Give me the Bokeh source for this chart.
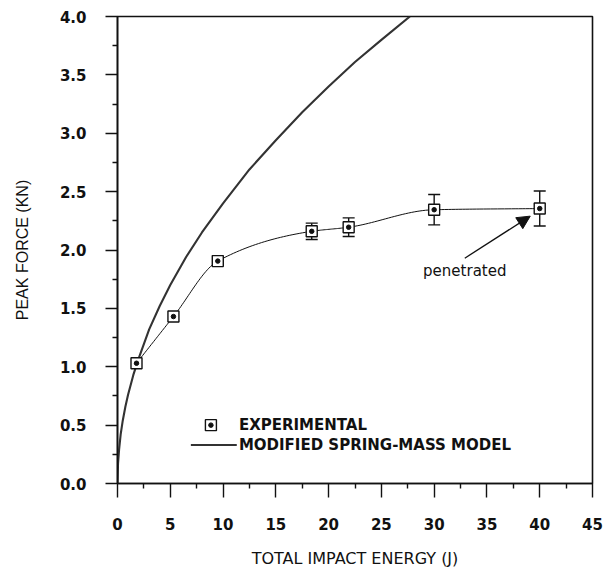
from bokeh.plotting import figure
from bokeh.models import (Range1d, FixedTicker, PrintfTickFormatter, Whisker, TeeHead,
                          ColumnDataSource, Arrow, NormalHead)
from bokeh.core.properties import value
from bokeh.embed import file_html
from bokeh.resources import INLINE

# Measured peak force vs. total impact energy
exp_energy = [1.8, 5.3, 9.5, 18.4, 21.9, 30.0, 40.0]
exp_force = [1.03, 1.43, 1.905, 2.16, 2.195, 2.345, 2.355]
exp_err = [0.0, 0.0, 0.0, 0.07, 0.08, 0.13, 0.15]

# Modified spring-mass model prediction
model_energy = [0.0, 0.05, 0.15, 0.3, 0.5, 0.75, 1.0, 1.5, 2.0, 3.0, 4.0, 5.0,
                6.5, 8.0, 10.0, 12.5, 15.0, 17.5, 20.0, 22.5, 25.0, 27.7]
model_force = [0.0, 0.17, 0.29, 0.42, 0.54, 0.66, 0.76, 0.93, 1.07, 1.32, 1.52, 1.70,
               1.94, 2.15, 2.40, 2.69, 2.94, 3.18, 3.40, 3.61, 3.80, 4.0]

x_ticks = [0, 5, 10, 15, 20, 25, 30, 35, 40, 45]
y_ticks = [0.0, 0.5, 1.0, 1.5, 2.0, 2.5, 3.0, 3.5, 4.0]

legend_labels = ["EXPERIMENTAL", "MODIFIED SPRING-MASS MODEL"]
note_text = "penetrated"

INK = "#111111"


def smooth(xs, ys, steps=30):
    """Monotone cubic (Fritsch-Carlson) path through the points, for a smooth line."""
    n = len(xs)
    h = [xs[i + 1] - xs[i] for i in range(n - 1)]
    d = [(ys[i + 1] - ys[i]) / h[i] for i in range(n - 1)]
    m = [0.0] * n
    m[0], m[-1] = d[0], d[-1]
    for i in range(1, n - 1):
        if d[i - 1] * d[i] <= 0:
            m[i] = 0.0
        else:
            w1 = 2 * h[i] + h[i - 1]
            w2 = h[i] + 2 * h[i - 1]
            m[i] = (w1 + w2) / (w1 / d[i - 1] + w2 / d[i])
    out_x, out_y = [], []
    for i in range(n - 1):
        for k in range(steps):
            t = k / steps
            h00 = 2 * t ** 3 - 3 * t ** 2 + 1
            h10 = t ** 3 - 2 * t ** 2 + t
            h01 = -2 * t ** 3 + 3 * t ** 2
            h11 = t ** 3 - t ** 2
            out_x.append(xs[i] + t * h[i])
            out_y.append(h00 * ys[i] + h10 * h[i] * m[i] + h01 * ys[i + 1] + h11 * h[i] * m[i + 1])
    out_x.append(xs[-1])
    out_y.append(ys[-1])
    return out_x, out_y


p = figure(width=603, height=572, output_backend="svg", toolbar_location=None,
           x_range=Range1d(0, 45), y_range=Range1d(0, 4),
           min_border_left=117, min_border_right=11, min_border_top=16, min_border_bottom=89)

p.background_fill_color = "white"
p.border_fill_color = "white"
p.outline_line_color = INK
p.outline_line_width = 1.6
p.xgrid.visible = False
p.ygrid.visible = False

# axes
p.xaxis.ticker = FixedTicker(ticks=x_ticks, minor_ticks=[x + 2.5 for x in x_ticks[:-1]])
p.yaxis.ticker = FixedTicker(ticks=y_ticks, minor_ticks=[y + 0.25 for y in y_ticks[:-1]])
p.yaxis.formatter = PrintfTickFormatter(format="%.1f")

for ax in (p.xaxis, p.yaxis):
    ax.axis_line_color = INK
    ax.axis_line_width = 1.6
    ax.major_tick_line_color = INK
    ax.major_tick_line_width = 1.4
    ax.minor_tick_line_color = INK
    ax.minor_tick_line_width = 1.4
    ax.major_tick_in = 0
    ax.minor_tick_in = 0
    ax.major_label_text_font = "DejaVu Sans"
    ax.major_label_text_font_style = "bold"
    ax.major_label_text_font_size = "15px"
    ax.major_label_text_color = INK
    ax.axis_label_text_font_style = "normal"
    ax.axis_label_text_color = INK

p.xaxis.major_tick_out = 14
p.xaxis.minor_tick_out = 5
p.xaxis.major_label_standoff = 20
p.xaxis.axis_label = "TOTAL IMPACT ENERGY (J)"
p.xaxis.axis_label_text_font = "DejaVu Sans"
p.xaxis.axis_label_text_font_size = "16px"
p.xaxis.axis_label_standoff = 16

p.yaxis.major_tick_out = 12
p.yaxis.minor_tick_out = 5
p.yaxis.major_label_standoff = 19
p.yaxis.axis_label = "PEAK FORCE (KN)"
p.yaxis.axis_label_text_font = "Liberation Sans"
p.yaxis.axis_label_text_font_size = "16px"
p.yaxis.axis_label_standoff = 26

# model curve
p.line(model_energy, model_force, line_color="#333333", line_width=2.1)

# experimental curve with error bars
sx, sy = smooth(exp_energy, exp_force)
p.line(sx, sy, line_color=INK, line_width=1.0)

eb_x = [e for e, d in zip(exp_energy, exp_err) if d > 0]
eb_y = [f for f, d in zip(exp_force, exp_err) if d > 0]
eb_d = [d for d in exp_err if d > 0]
eb_src = ColumnDataSource(dict(x=eb_x,
                               upper=[f + d for f, d in zip(eb_y, eb_d)],
                               lower=[f - d for f, d in zip(eb_y, eb_d)]))
p.add_layout(Whisker(source=eb_src, base="x", upper="upper", lower="lower",
                     line_color=INK, line_width=1.4,
                     upper_head=TeeHead(size=12, line_color=INK, line_width=1.4),
                     lower_head=TeeHead(size=12, line_color=INK, line_width=1.4)))

p.scatter(exp_energy, exp_force, marker="square", size=11, fill_color="white",
          line_color=INK, line_width=1.4)
p.scatter(exp_energy, exp_force, marker="circle", size=4.5, fill_color=INK, line_color=INK)

# annotation for the penetrated specimen
p.add_layout(Arrow(end=NormalHead(size=13, fill_color=INK, line_color=INK),
                   x_start=32.9, y_start=1.93, x_end=39.1, y_end=2.29,
                   line_color=INK, line_width=1.3))
p.text(x=[32.9], y=[1.82], text=[note_text], text_font=value("DejaVu Sans"),
       text_font_size="15px", text_align="center", text_baseline="middle",
       text_color=INK)

# legend
p.scatter([8.85], [0.5], marker="square", size=11, fill_color="white",
          line_color=INK, line_width=1.4)
p.scatter([8.85], [0.5], marker="circle", size=4.5, fill_color=INK, line_color=INK)
p.line([6.95, 11.3], [0.33, 0.33], line_color="#333333", line_width=2.0)
p.text(x=[11.5, 11.5], y=[0.5, 0.33], text=legend_labels, text_font=value("DejaVu Sans"),
       text_font_size="15px", text_font_style="bold", text_align="left",
       text_baseline="middle", text_color=INK)

open("out.html", "w").write(file_html(p, INLINE))
